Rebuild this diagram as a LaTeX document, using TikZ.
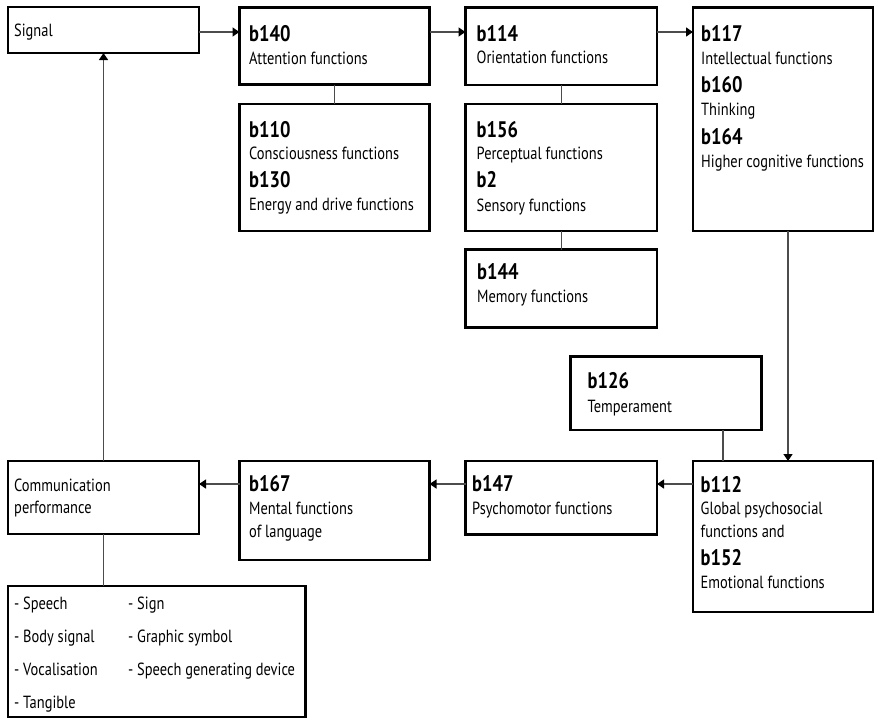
\documentclass[tikz,border=0pt]{standalone}
\usepackage{fontspec}
\setmainfont{PT Sans}[FakeStretch=0.82]
\usetikzlibrary{arrows.meta}
\newcommand\mkbox[5]{\node[box, minimum width=#4pt, minimum height=#5pt] (#1) at (#2,#3) {};}
\begin{document}
\begin{tikzpicture}[x=1pt,y=-1pt,
  box/.style={draw=black, line width=2.4pt, inner sep=0pt, outer sep=0pt, anchor=north west},
  code/.style={anchor=base west, inner sep=0pt, font=\fontsize{22.5}{26}\selectfont\bfseries},
  txt/.style={anchor=base west, inner sep=0pt, font=\fontsize{17.6}{21}\selectfont},
  link/.style={draw=black!70, line width=1.3pt},
  flow/.style={link, -{Triangle[length=7pt,width=9pt,color=black]}}]
\useasboundingbox (0,0) rectangle (878,720);

% boxes
\mkbox{signal}{8}{7}{191}{46}
\mkbox{b140}{239.5}{7.5}{190}{77}
\mkbox{b110}{239.5}{104}{190}{127}
\mkbox{b114}{465.5}{7.5}{191.5}{77.5}
\mkbox{b156}{465.5}{104}{191.5}{127}
\mkbox{b144}{465.5}{249.5}{191.5}{78}
\mkbox{b117}{693}{7.5}{180}{223.5}
\mkbox{b126}{570.5}{356.5}{191}{73.5}
\mkbox{b147}{465.5}{461}{191.5}{73.5}
\mkbox{b112}{693}{461}{180}{151}
\mkbox{comm}{8}{461}{191}{73}
\mkbox{b167}{239.5}{461}{190}{99}
\mkbox{modes}{8}{586}{297.5}{131}

% texts
\node[txt] (signal-t) at (14,36) {Signal};

\node[code] (b140-c) at (249,41) {b140};
\node[txt]  (b140-t) at (249,64) {Attention functions};

\node[code] (b110-c) at (249,137) {b110};
\node[txt]  (b110-t) at (249,159) {Consciousness functions};
\node[code] (b130-c) at (249,187) {b130};
\node[txt]  (b130-t) at (249,210) {Energy and drive functions};

\node[code] (b114-c) at (476.5,41) {b114};
\node[txt]  (b114-t) at (476.5,63) {Orientation functions};

\node[code] (b156-c) at (476.5,137) {b156};
\node[txt]  (b156-t) at (476.5,159) {Perceptual functions};
\node[code] (b2-c)   at (476.5,187) {b2};
\node[txt]  (b2-t)   at (476.5,211) {Sensory functions};

\node[code] (b144-c) at (477,279) {b144};
\node[txt]  (b144-t) at (477,302) {Memory functions};

\node[code] (b117-c) at (701,41) {b117};
\node[txt]  (b117-t) at (701,64) {Intellectual functions};
\node[code] (b160-c) at (701,92) {b160};
\node[txt]  (b160-t) at (701,115) {Thinking};
\node[code] (b164-c) at (701,144) {b164};
\node[txt]  (b164-t) at (701,167) {Higher cognitive functions};

\node[code] (b126-c) at (587.5,388) {b126};
\node[txt]  (b126-t) at (587.5,412) {Temperament};

\node[code] (b147-c) at (472,491) {b147};
\node[txt]  (b147-t) at (472,514) {Psychomotor functions};

\node[code] (b112-c) at (700.5,492) {b112};
\node[txt]  (b112-t) at (700.5,514) {Global psychosocial};
\node[txt]  (b112-u) at (700.5,537) {functions and};
\node[code] (b152-c) at (700.5,565) {b152};
\node[txt]  (b152-t) at (700.5,588) {Emotional functions};

\node[txt] (comm-t) at (14,491) {Communication};
\node[txt] (comm-u) at (14,513) {performance};

\node[code] (b167-c) at (249,491) {b167};
\node[txt]  (b167-t) at (249,514) {Mental functions};
\node[txt]  (b167-u) at (249,537) {of language};

\node[txt] (m1) at (14,609) {- Speech};
\node[txt] (m2) at (14,642) {- Body signal};
\node[txt] (m3) at (14,675) {- Vocalisation};
\node[txt] (m4) at (14,708) {- Tangible};
\node[txt] (m5) at (128,609) {- Sign};
\node[txt] (m6) at (128,642) {- Graphic symbol};
\node[txt] (m7) at (128,675) {- Speech generating device};

% routing guides
\coordinate (row1) at (0,32);
\coordinate (row2) at (0,484);
\coordinate (col117) at (788,0);
\coordinate (col126) at (723,0);

% connectors
\draw[flow] (signal.east |- row1) -- (b140.west |- row1);
\draw[flow] (b140.east |- row1) -- (b114.west |- row1);
\draw[flow] (b114.east |- row1) -- (b117.west |- row1);
\draw[link] (b140.south) -- (b110.north);
\draw[link] (b114.south) -- (b156.north);
\draw[link] (b156.south) -- (b144.north);
\draw[flow] (b117.south -| col117) -- (b112.north -| col117);
\draw[link] (b126.south -| col126) -- (b112.north -| col126);
\draw[flow] (b112.west |- row2) -- (b147.east |- row2);
\draw[flow] (b147.west |- row2) -- (b167.east |- row2);
\draw[flow] (b167.west |- row2) -- (comm.east |- row2);
\draw[flow] (comm.north) -- (signal.south);
\draw[link] (comm.south) -- (comm.south |- modes.north);
\end{tikzpicture}
\end{document}
